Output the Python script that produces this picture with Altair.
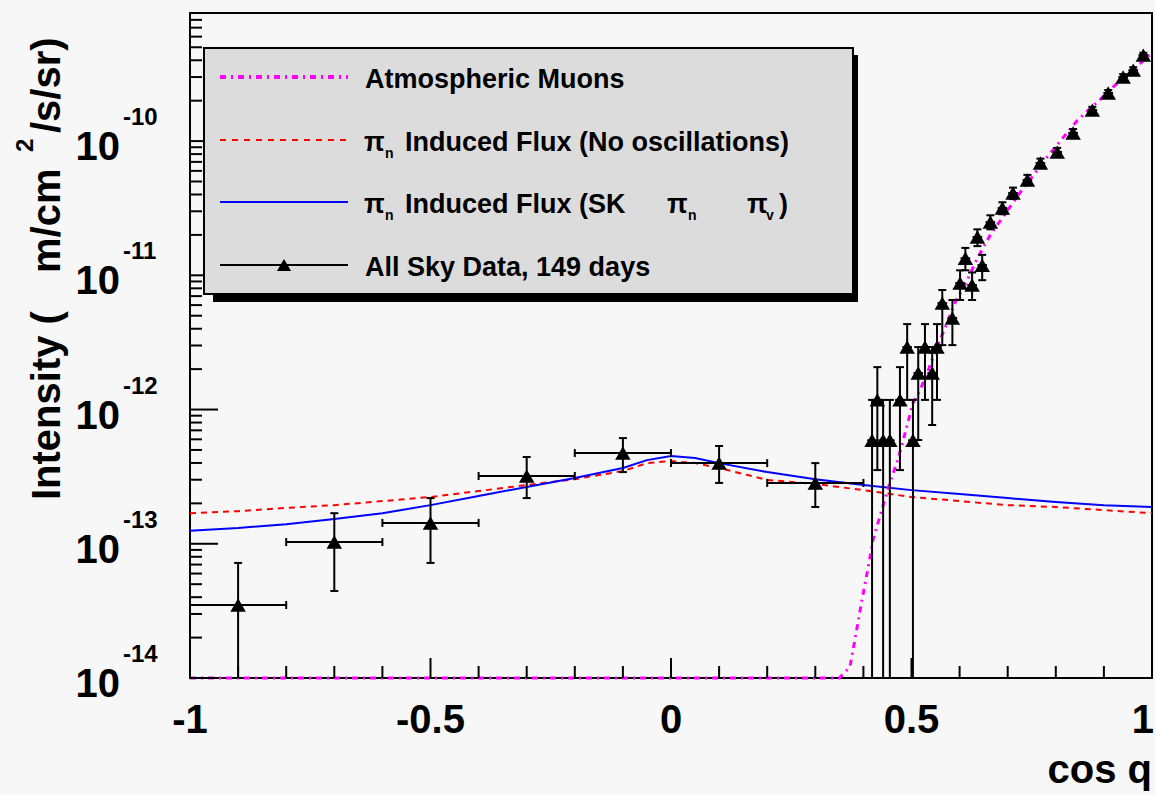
import altair as alt
import pandas as pd

FONT = "Liberation Sans"

# ---------------- data ----------------
curve_x = [-1.0, -0.9, -0.8, -0.7, -0.6, -0.5, -0.4, -0.3, -0.2, -0.1, -0.05, 0.0,
           0.05, 0.1, 0.2, 0.3, 0.4, 0.5, 0.6, 0.7, 0.8, 0.9, 1.0]
osc_flux = [1.25e-13, 1.31e-13, 1.40e-13, 1.53e-13, 1.69e-13, 1.94e-13, 2.27e-13, 2.65e-13,
            3.09e-13, 3.67e-13, 4.20e-13, 4.50e-13, 4.35e-13, 3.99e-13, 3.42e-13, 3.03e-13,
            2.74e-13, 2.51e-13, 2.35e-13, 2.19e-13, 2.05e-13, 1.94e-13, 1.88e-13]
noosc_flux = [1.69e-13, 1.75e-13, 1.85e-13, 1.94e-13, 2.08e-13, 2.23e-13, 2.47e-13, 2.74e-13,
              3.03e-13, 3.48e-13, 3.99e-13, 4.13e-13, 3.99e-13, 3.67e-13, 2.99e-13, 2.79e-13,
              2.51e-13, 2.23e-13, 2.08e-13, 1.94e-13, 1.88e-13, 1.78e-13, 1.69e-13]

muon_x = [-1.0, 0.35, 0.372, 0.386, 0.397, 0.41, 0.42, 0.438, 0.455, 0.47, 0.483, 0.503,
          0.518, 0.535, 0.553, 0.574, 0.59, 0.616, 0.637, 0.664, 0.722, 0.782, 0.845, 0.886,
          0.928, 0.961, 0.99, 1.0]
muon_flux = [1e-14, 1e-14, 1.21e-14, 2.28e-14, 3.81e-14, 6.7e-14, 1.07e-13, 1.78e-13, 2.84e-13,
             4.06e-13, 5.93e-13, 1.12e-12, 1.40e-12, 1.97e-12, 2.92e-12, 4.41e-12, 6.21e-12,
             9.2e-12, 1.34e-11, 2.0e-11, 3.96e-11, 7.6e-11, 1.43e-10, 1.95e-10, 2.70e-10,
             3.38e-10, 4.23e-10, 4.52e-10]

pt_x = [-0.9, -0.7, -0.5, -0.3, -0.1, 0.1, 0.3,
        0.418, 0.429, 0.441, 0.455, 0.476, 0.491, 0.503, 0.514, 0.528, 0.543, 0.553,
        0.564, 0.585, 0.601, 0.612, 0.626, 0.637, 0.647, 0.664, 0.689, 0.711, 0.741,
        0.768, 0.803, 0.836, 0.876, 0.909, 0.940, 0.961, 0.982]
pt_flux = [3.5e-14, 1.03e-13, 1.43e-13, 3.2e-13, 4.74e-13, 3.99e-13, 2.84e-13,
           5.9e-13, 1.18e-12, 5.9e-13, 5.9e-13, 1.18e-12, 2.92e-12, 5.9e-13, 1.87e-12,
           2.92e-12, 1.87e-12, 2.92e-12, 6.21e-12, 4.81e-12, 8.75e-12, 1.34e-11, 8.46e-12,
           1.93e-11, 1.19e-11, 2.49e-11, 3.17e-11, 4.10e-11, 5.13e-11, 6.86e-11, 8.28e-11,
           1.15e-10, 1.70e-10, 2.28e-10, 3.00e-10, 3.38e-10, 4.37e-10]
pt_hi = [7.2e-14, 1.69e-13, 2.19e-13, 4.43e-13, 6.13e-13, 5.35e-13, 3.99e-13,
         1.18e-12, 2.07e-12, 1.18e-12, 1.18e-12, 2.07e-12, 4.33e-12, 1.18e-12, 2.92e-12,
         4.33e-12, 2.92e-12, 4.33e-12, 7.77e-12, 6.55e-12, 1.09e-11, 1.60e-11, 1.05e-11,
         2.2e-11, 1.42e-11, 2.8e-11, 3.5e-11, 4.5e-11, 5.6e-11, 7.4e-11, 8.9e-11,
         1.23e-10, 1.80e-10, 2.40e-10, 3.15e-10, 3.55e-10, 4.55e-10]
pt_lo = [1e-16, 4.45e-14, 7.2e-14, 2.19e-13, 3.42e-13, 2.84e-13, 1.88e-13,
         1e-16, 3.54e-13, 1e-16, 1e-16, 3.54e-13, 1.18e-12, 1e-16, 5.93e-13,
         1.18e-12, 7.67e-13, 1.18e-12, 3.02e-12, 3.02e-12, 6.55e-12, 1.09e-11, 6.55e-12,
         1.65e-11, 9.2e-12, 2.2e-11, 2.85e-11, 3.7e-11, 4.7e-11, 6.3e-11, 7.7e-11,
         1.07e-10, 1.60e-10, 2.15e-10, 2.85e-10, 3.2e-10, 4.2e-10]
pt_xerr = [0.1, 0.1, 0.1, 0.1, 0.1, 0.1, 0.1,
           0.01, 0.01, 0.01, 0.01, 0.01, 0.01, 0.01, 0.01, 0.01, 0.01, 0.01,
           0.01, 0.01, 0.01, 0.01, 0.01, 0.01, 0.01, 0.01, 0.01, 0.01, 0.01,
           0.01, 0.01, 0.01, 0.01, 0.01, 0.01, 0.01, 0.01]

# axis ticks / labels
x_major = [-1.0, -0.5, 0.0, 0.5, 1.0]
x_labels = ["-1", "-0.5", "0", "0.5", "1"]
x_minor = [-0.9, -0.8, -0.7, -0.6, -0.4, -0.3, -0.2, -0.1, 0.1, 0.2, 0.3, 0.4,
           0.6, 0.7, 0.8, 0.9]
y_major = [1e-14, 1e-13, 1e-12, 1e-11, 1e-10]
y_exp = ["-14", "-13", "-12", "-11", "-10"]
y_minor = [m * d for d in [1e-14, 1e-13, 1e-12, 1e-11, 1e-10] for m in range(2, 10)
           if m * d < 8.95e-10]

# ---------------- tables ----------------
curves = pd.DataFrame({"x": curve_x, "osc": osc_flux, "noosc": noosc_flux})
muons = pd.DataFrame({"x": muon_x, "y": muon_flux})
pts = pd.DataFrame({"x": pt_x, "y": pt_flux, "hi": pt_hi, "lo": pt_lo, "xe": pt_xerr})
pts["xlo"] = pts["x"] - pts["xe"]
pts["xhi"] = pts["x"] + pts["xe"]
xmaj = pd.DataFrame({"v": x_major, "t": x_labels})
xmin = pd.DataFrame({"v": x_minor})
ymaj = pd.DataFrame({"v": y_major, "e": y_exp})
ymin = pd.DataFrame({"v": y_minor})
one = pd.DataFrame({"k": [0]})

W, H = 962, 665
xs = alt.Scale(domain=[-1, 1], nice=False, zero=False)
ys = alt.Scale(type="log", domain=[1e-14, 9e-10], nice=False, clamp=True)


def X(f):
    return alt.X(f, type="quantitative", scale=xs, axis=None)


def Y(f):
    return alt.Y(f, type="quantitative", scale=ys, axis=None)


def txt(s, x, y, size, align="left", angle=0, baseline="alphabetic"):
    return alt.Chart(one).mark_text(
        text=s, fontSize=size, font=FONT, fontWeight="bold", align=align,
        baseline=baseline, angle=angle, color="black"
    ).encode(x=alt.value(x), y=alt.value(y))


red = alt.Chart(curves).mark_line(color="#ff0000", strokeWidth=2, strokeDash=[6, 5]).encode(
    x=X("x"), y=Y("noosc"))
blue = alt.Chart(curves).mark_line(color="#0000ff", strokeWidth=2).encode(
    x=X("x"), y=Y("osc"))
mag = alt.Chart(muons).mark_line(color="#ff00ff", strokeWidth=3, strokeDash=[6, 5, 2, 5]).encode(
    x=X("x"), y=Y("y"))

vbar = alt.Chart(pts).mark_rule(color="black", strokeWidth=2).encode(
    x=X("x"), y=Y("lo"), y2="hi")
hbar = alt.Chart(pts).mark_rule(color="black", strokeWidth=2).encode(
    x=X("xlo"), x2="xhi", y=Y("y"))
hcap = alt.Chart(pts).mark_point(shape="M-1,0L1,0", filled=False, color="black",
                                 strokeWidth=2, size=64, opacity=1)
cap_top = hcap.encode(x=X("x"), y=Y("hi"))
cap_bot = hcap.transform_filter("datum.lo > 1.05e-14").encode(x=X("x"), y=Y("lo"))
vcap = alt.Chart(pts).mark_point(shape="M0,-1L0,1", filled=False, color="black",
                                 strokeWidth=2, size=64, opacity=1).transform_filter(
    "datum.xe > 0.05")
cap_l = vcap.encode(x=X("xlo"), y=Y("y"))
cap_r = vcap.encode(x=X("xhi"), y=Y("y"))
marks = alt.Chart(pts).mark_point(shape="triangle-up", filled=True, color="black",
                                  size=240, opacity=1).encode(x=X("x"), y=Y("y"))

# inward ticks
ytick_maj = alt.Chart(ymaj).mark_rule(color="black", strokeWidth=2).encode(
    y=Y("v"), x=alt.value(0), x2=alt.value(28))
ytick_min = alt.Chart(ymin).mark_rule(color="black", strokeWidth=2).encode(
    y=Y("v"), x=alt.value(0), x2=alt.value(12))
xtick_maj = alt.Chart(xmaj).mark_rule(color="black", strokeWidth=2).encode(
    x=X("v"), y=alt.value(H), y2=alt.value(H - 20))
xtick_min = alt.Chart(xmin).mark_rule(color="black", strokeWidth=2).encode(
    x=X("v"), y=alt.value(H), y2=alt.value(H - 12))

# tick labels
xlab = alt.Chart(xmaj).transform_filter("datum.v < 0.99").mark_text(
    fontSize=40, font=FONT, fontWeight="bold", align="center",
    baseline="alphabetic", color="black").encode(
    x=X("v"), y=alt.value(H + 55), text="t:N")
xlab_last = alt.Chart(xmaj).transform_filter("datum.v >= 0.99").mark_text(
    fontSize=40, font=FONT, fontWeight="bold", align="right", dx=2,
    baseline="alphabetic", color="black").encode(
    x=X("v"), y=alt.value(H + 55), text="t:N")
ylab10 = alt.Chart(ymaj).mark_text(text="10", fontSize=40, font=FONT, fontWeight="bold",
                                   align="right", baseline="alphabetic", dy=19,
                                   color="black").encode(y=Y("v"), x=alt.value(-70))
ylabexp = alt.Chart(ymaj).mark_text(fontSize=24, font=FONT, fontWeight="bold",
                                    align="left", baseline="alphabetic", dy=-16,
                                    color="black").encode(y=Y("v"), x=alt.value(-67),
                                                          text="e:N")

# axis titles
ytitle = [
    txt("Intensity (", -130, 487, 40, angle=270),
    txt("m/cm", -130, 260, 40, angle=270),
    txt("2", -157, 139, 24, angle=270),
    txt("/s/sr)", -130, 120, 40, angle=270),
]
xtitle = txt("cos  q", 962, 770, 40, align="right")

# legend
shadow = alt.Chart(one).mark_rect(color="black").encode(
    x=alt.value(23), x2=alt.value(668), y=alt.value(42), y2=alt.value(289))
box = alt.Chart(one).mark_rect(fill="#dcdcdc", stroke="black", strokeWidth=2).encode(
    x=alt.value(14), x2=alt.value(663), y=alt.value(35), y2=alt.value(281))
leg_mag = alt.Chart(one).mark_rule(color="#ff00ff", strokeWidth=4, strokeDash=[6, 5, 2, 5]).encode(
    x=alt.value(30), x2=alt.value(158), y=alt.value(64))
leg_red = alt.Chart(one).mark_rule(color="#ff0000", strokeWidth=2, strokeDash=[6, 6]).encode(
    x=alt.value(30), x2=alt.value(158), y=alt.value(127))
leg_blue = alt.Chart(one).mark_rule(color="#0000ff", strokeWidth=2).encode(
    x=alt.value(30), x2=alt.value(158), y=alt.value(189))
leg_blk = alt.Chart(one).mark_rule(color="black", strokeWidth=2).encode(
    x=alt.value(30), x2=alt.value(158), y=alt.value(252))
leg_tri = alt.Chart(one).mark_point(shape="triangle-up", filled=True, color="black",
                                    size=200, opacity=1).encode(x=alt.value(94), y=alt.value(252))
leg_text = [
    txt("Atmospheric Muons", 175, 75, 27),
    txt("π", 174, 138, 27),
    txt("n", 195, 145, 14),
    txt("Induced Flux (No oscillations)", 215, 138, 27),
    txt("π", 174, 200, 27),
    txt("n", 195, 207, 14),
    txt("Induced Flux (SK", 215, 200, 27),
    txt("π", 477, 200, 27),
    txt("n", 498, 207, 14),
    txt("π", 557, 200, 27),
    txt("v", 576, 207, 14),
    txt(")", 589, 200, 27),
    txt("All Sky Data, 149 days", 175, 263, 27),
]

chart = alt.layer(
    red, blue, mag, vbar, hbar, cap_top, cap_bot, cap_l, cap_r, marks,
    ytick_min, ytick_maj, xtick_min, xtick_maj, xlab, xlab_last, ylab10, ylabexp,
    *ytitle, xtitle,
    shadow, box, leg_mag, leg_red, leg_blue, leg_blk, leg_tri, *leg_text
).properties(
    width=W, height=H,
    autosize=alt.AutoSizeParams(type="none"),
    padding={"left": 190, "top": 13, "right": 3, "bottom": 117},
    background="#f7f7f7",
).configure_view(stroke="black", strokeWidth=2, fill="#f7f7f7")

chart.save("out.html", embed_options={"renderer": "svg", "actions": False})
